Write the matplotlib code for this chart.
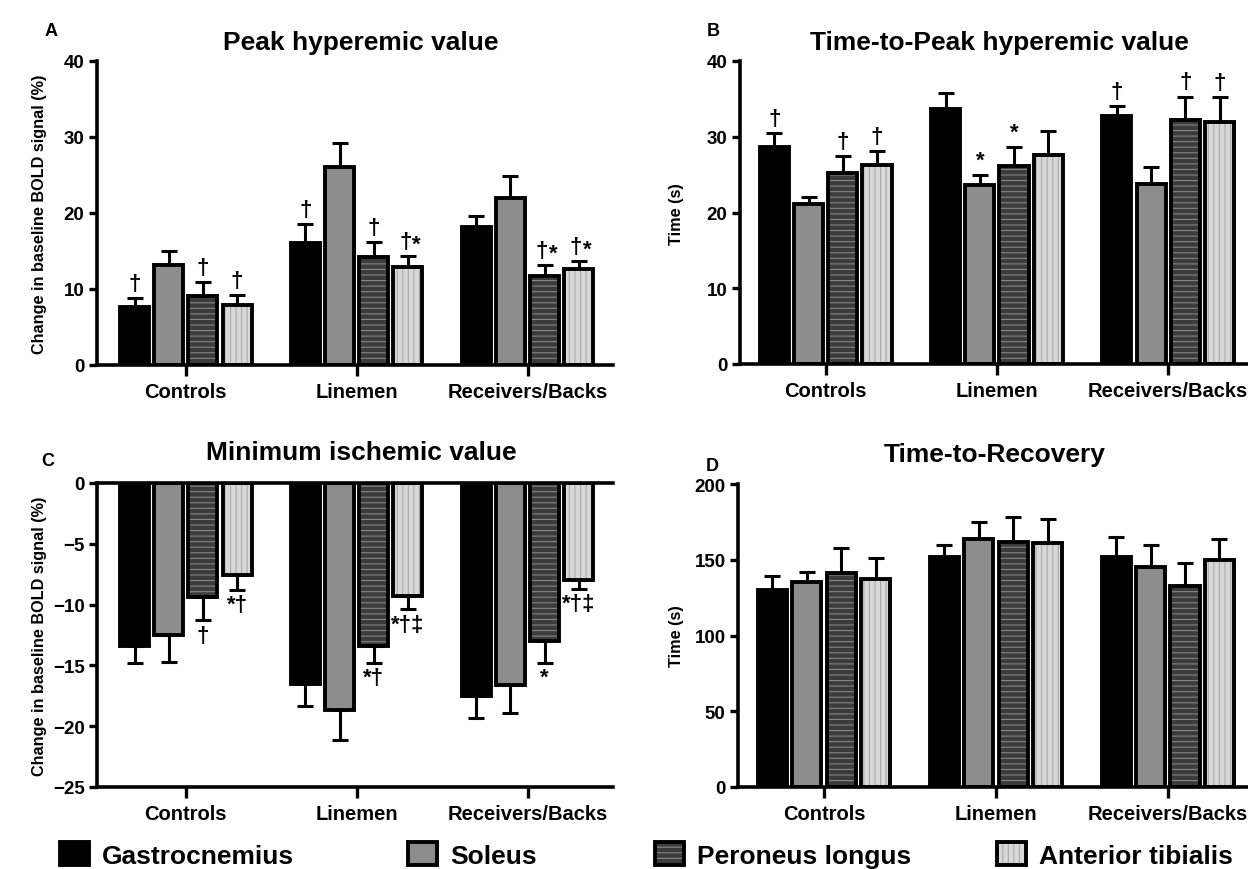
"""
BOLD signal muscle perfusion — four-panel bar chart (A-D) with group
comparisons and significance marks.
"""

import numpy as np
import matplotlib
matplotlib.use('Agg')
import matplotlib.pyplot as plt
from matplotlib.patches import Patch

plt.rcParams['font.family'] = ['Liberation Sans', 'DejaVu Sans']
plt.rcParams['font.weight'] = 'bold'
plt.rcParams['hatch.linewidth'] = 0.8

# ---- data (rows = groups, cols = muscles) ----
groups = ['Controls', 'Linemen', 'Receivers/Backs']
muscles = ['Gastrocnemius', 'Soleus', 'Peroneus longus', 'Anterior tibialis']

peak_mean = [[7.6, 13.1, 9.1, 7.9], [16.1, 26.0, 14.2, 12.9], [18.2, 22.0, 11.7, 12.6]]
peak_sem = [[1.2, 1.9, 1.8, 1.3], [2.4, 3.2, 2.0, 1.4], [1.4, 2.9, 1.5, 1.1]]
peak_marks = [['†', '', '†', '†'], ['†', '', '†', '†*'], ['', '', '†*', '†*']]

ttp_mean = [[28.6, 21.1, 25.2, 26.3], [33.6, 23.6, 26.1, 27.6], [32.8, 23.8, 32.2, 31.9]]
ttp_sem = [[1.9, 1.0, 2.3, 1.8], [2.2, 1.4, 2.6, 3.1], [1.3, 2.2, 3.1, 3.3]]
ttp_marks = [['†', '', '†', '†'], ['', '*', '*', ''], ['†', '', '†', '†']]

min_mean = [[-13.4, -12.5, -9.4, -7.6], [-16.5, -18.7, -13.4, -9.3], [-17.5, -16.6, -13.0, -8.0]]
min_sem = [[1.4, 2.2, 1.9, 1.2], [1.8, 2.4, 1.4, 1.1], [1.8, 2.3, 1.8, 0.7]]
min_marks = [['', '', '†', '*†'], ['', '', '*†', '*†‡'], ['', '', '*', '*†‡']]

ttr_mean = [[130, 135, 141, 137], [152, 164, 162, 161], [152, 145, 133, 150]]
ttr_sem = [[9, 7, 17, 14], [8, 11, 16, 16], [13, 15, 15, 14]]
ttr_marks = [['', '', '', ''], ['', '', '', ''], ['', '', '', '']]

# ---- styles ----
FACE = ['#000000', '#8c8c8c', '#3c3c3c', '#d8d8d8']
HATCH = [None, None, '---', '|||']
HATCH_COL = ['#000000', '#8c8c8c', '#858585', '#aaaaaa']
OFFSETS = [-0.3, -0.1, 0.1, 0.3]
WIDTH = 0.17
LW = 2.8
MARK_FS = 16

W, H = 1248, 870
fig = plt.figure(figsize=(W / 100, H / 100), dpi=100)


def add_axes_px(left, top, right, bottom):
    return fig.add_axes([left / W, 1 - bottom / H, (right - left) / W, (bottom - top) / H])


def ftext(x, y, s, **kw):
    return fig.text(x / W, 1 - y / H, s, **kw)


def draw_panel(box, xlim, means, sems, marks, ylim, yticks, negative=False):
    ax = add_axes_px(*box)
    means = np.array(means, dtype=float)
    sems = np.array(sems, dtype=float)
    x = np.arange(len(groups))
    for j in range(len(muscles)):
        xs = x + OFFSETS[j]
        m = means[:, j]
        # fill (+ coloured hatch) then black outline on top
        ax.bar(xs, m, WIDTH, color=FACE[j], hatch=HATCH[j], edgecolor=HATCH_COL[j],
               linewidth=0, zorder=2)
        ax.bar(xs, m, WIDTH, facecolor='none', edgecolor='black', linewidth=LW, zorder=3)
        if negative:
            yerr = [sems[:, j], np.zeros(len(x))]
        else:
            yerr = [np.zeros(len(x)), sems[:, j]]
        ax.errorbar(xs, m, yerr=yerr, fmt='none', ecolor='black', elinewidth=2.2,
                    capsize=5.5, capthick=2.2, zorder=1)
        for i in range(len(groups)):
            s = marks[i][j]
            if not s:
                continue
            if negative:
                ax.annotate(s, (xs[i], m[i] - sems[i, j]), xytext=(0, -3),
                            textcoords='offset points', ha='center', va='top', fontsize=MARK_FS)
            elif s == '†*':
                ax.annotate('†', (xs[i], m[i] + sems[i, j]), xytext=(-2, 3),
                            textcoords='offset points', ha='center', va='bottom', fontsize=MARK_FS)
                ax.annotate('*', (xs[i], m[i] + sems[i, j]), xytext=(3, 1),
                            textcoords='offset points', ha='left', va='bottom', fontsize=MARK_FS)
            else:
                ax.annotate(s, (xs[i], m[i] + sems[i, j]), xytext=(0, 3),
                            textcoords='offset points', ha='center', va='bottom', fontsize=MARK_FS)

    ax.set_xlim(*xlim)
    ax.set_ylim(*ylim)
    ax.set_yticks(yticks)
    ax.set_xticks(x)
    ax.set_xticklabels(groups, fontsize=14.5)
    ax.tick_params(axis='y', labelsize=13.5, width=2.4, length=6, pad=3)
    ax.tick_params(axis='x', width=2.4, length=8, pad=4)
    ax.spines['right'].set_visible(False)
    ax.spines['top'].set_visible(negative)
    for sp in ['left', 'bottom', 'top']:
        ax.spines[sp].set_linewidth(2.6)
    return ax


draw_panel((97, 62, 613, 366), (-0.52, 2.5), peak_mean, peak_sem, peak_marks,
           (0, 40), [0, 10, 20, 30, 40])
draw_panel((740, 62, 1247, 365), (-0.5, 2.46), ttp_mean, ttp_sem, ttp_marks,
           (0, 40), [0, 10, 20, 30, 40])
draw_panel((97, 484, 613, 788), (-0.52, 2.5), min_mean, min_sem, min_marks,
           (-25, 0), [0, -5, -10, -15, -20, -25], negative=True)
draw_panel((738, 485, 1247, 788), (-0.5, 2.46), ttr_mean, ttr_sem, ttr_marks,
           (0, 200), [0, 50, 100, 150, 200])

# titles, panel letters, axis labels
ftext(361, 50, 'Peak hyperemic value', ha='center', va='baseline', fontsize=19)
ftext(999, 50, 'Time-to-Peak hyperemic value', ha='center', va='baseline', fontsize=19)
ftext(361, 460, 'Minimum ischemic value', ha='center', va='baseline', fontsize=19)
ftext(995, 462, 'Time-to-Recovery', ha='center', va='baseline', fontsize=19)

for lx, ly, letter in [(51, 31, 'A'), (713, 31, 'B'), (48, 462, 'C'), (712, 467, 'D')]:
    ftext(lx, ly, letter, ha='center', va='center', fontsize=13)

ylab = 'Change in baseline BOLD signal (%)'
ftext(40, 214, ylab, rotation=90, ha='center', va='center', fontsize=11.7)
ftext(40, 636, ylab, rotation=90, ha='center', va='center', fontsize=11.7)
ftext(677, 214, 'Time (s)', rotation=90, ha='center', va='center', fontsize=11.7)
ftext(677, 636, 'Time (s)', rotation=90, ha='center', va='center', fontsize=11.7)

# legend: one entry per muscle, placed where the original puts each square
legend_x = [60, 408, 655, 997]
for j in range(len(muscles)):
    fill = Patch(facecolor=FACE[j], hatch=HATCH[j], edgecolor=HATCH_COL[j], linewidth=0)
    outline = Patch(facecolor='none', edgecolor='black', linewidth=LW)
    leg = fig.legend([(fill, outline)], [muscles[j]], loc='center left',
                     bbox_to_anchor=(legend_x[j] / W, 1 - 856 / H), frameon=False,
                     fontsize=19, handlelength=1.1, handleheight=0.95, handletextpad=0.5,
                     borderpad=0, borderaxespad=0)

fig.savefig('out.png', dpi=100)
